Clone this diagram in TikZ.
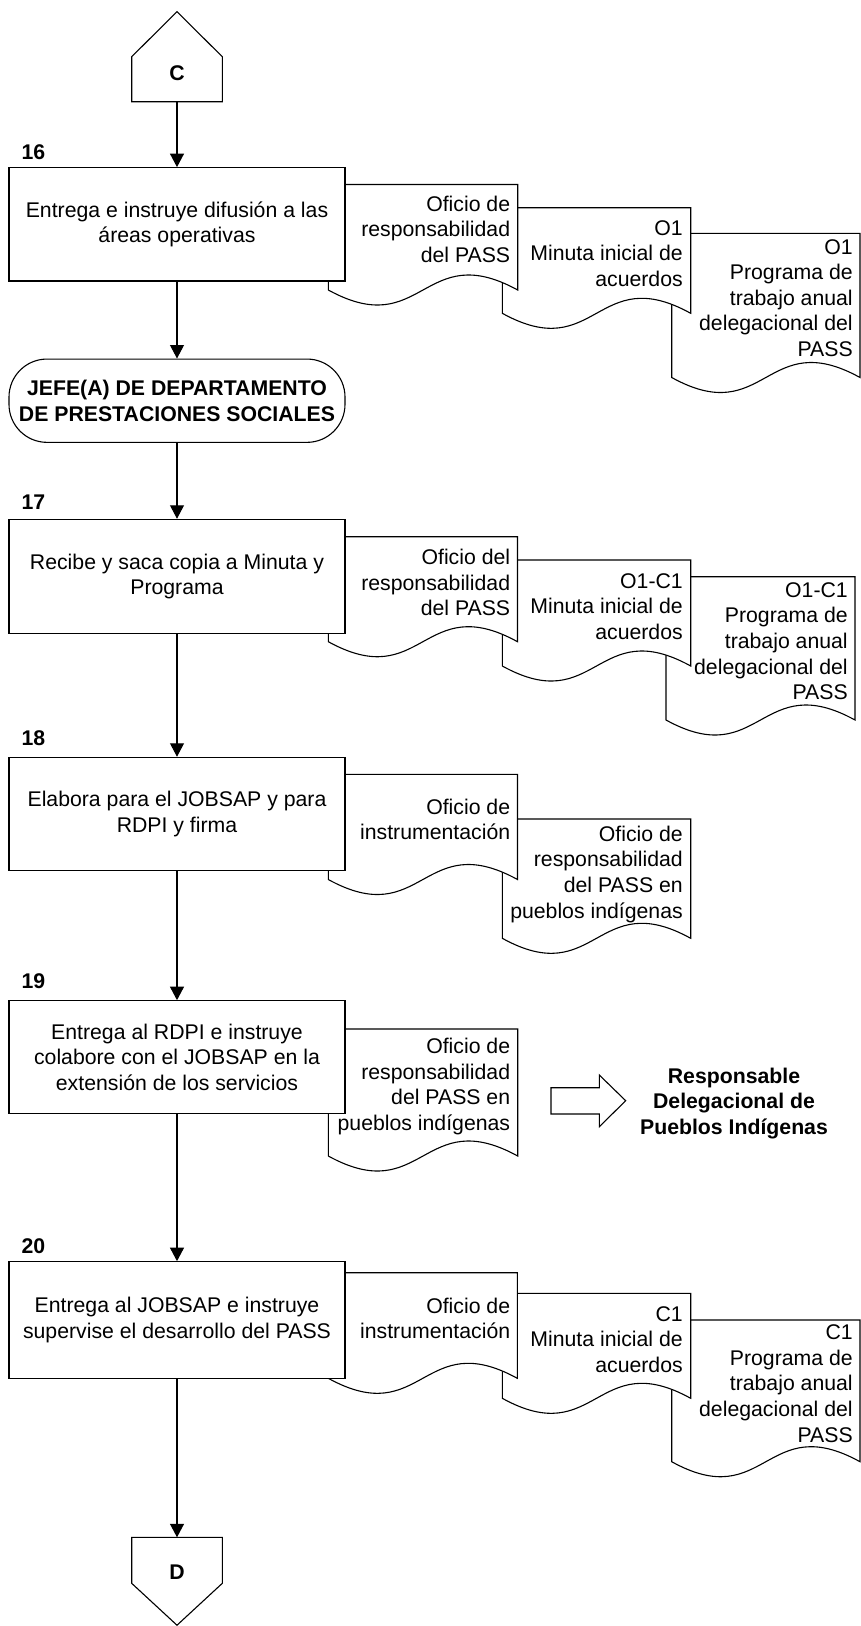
\documentclass[tikz,border=0pt]{standalone}
\usepackage{fontspec}
\setmainfont{Liberation Sans}
\usetikzlibrary{arrows.meta}

\begin{document}

% strut that fixes the height of the first text line
\newcommand\firstln{\rule{0pt}{16pt}}

\begin{tikzpicture}[x=1pt,y=-1pt,
  line width=1.1pt,
  docline/.style={draw=black, fill=white, line width=1.1pt},
  mainfont/.style={font=\fontsize{21.25}{25.6}\selectfont},
  boldfont/.style={font=\fontsize{21.25}{25.6}\selectfont\bfseries},
  procbox/.style={mainfont, draw, fill=white, minimum width=336pt, align=center, inner sep=0pt},
  termbox/.style={boldfont, draw, fill=white, rounded corners=38pt, minimum width=336pt,
    minimum height=83.3pt, align=center, inner sep=0pt},
  doctxt/.style={mainfont, anchor=north east, inner sep=0pt, align=right},
  steplbl/.style={boldfont, anchor=west, inner sep=0pt},
  flow/.style={-{Triangle[length=13.5pt,width=14pt]}, line width=1.1pt},
  docsym/.pic={
    % document symbol with a wavy bottom edge; width and base set by keys
    \filldraw[docline] (0,\docbase) -- (0,0) -- (\docwidth,0) -- (\docwidth,\docbase)
      .. controls ({\docwidth/2},{\docbase-52}) and ({\docwidth/2},{\docbase+52}) .. (0,\docbase) -- cycle;
  }]

% document symbol: left x, right x, top y, base y of the wavy bottom edge
\def\drawdoc#1#2#3#4{%
  \pgfmathsetmacro\docwidth{#2-#1}%
  \pgfmathsetmacro\docbase{#4-#3}%
  \pic at (#1,#3) {docsym};}

\useasboundingbox (0,0) rectangle (861,1626);

% ---------- off-page connector C ----------
\draw[fill=white] (131.7,56.7) -- (177,11.7) -- (222.3,56.7) -- (222.3,101.7) -- (131.7,101.7) -- cycle;
\node[boldfont, inner sep=0pt] (offC) at (177,73.3) {C};
\coordinate (Cbot) at (177,101.7);

% ---------- step 16 ----------
\drawdoc{671.7}{860}{233.3}{377.5}
\drawdoc{502.3}{690.7}{207.7}{313.3}
\drawdoc{328.3}{517.7}{184.5}{290}
\node[doctxt] (d16a) at (510.7,194.8) {\firstln Oficio de\\responsabilidad\\del PASS};
\node[doctxt] (d16b) at (683.3,218.8) {\firstln O1\\Minuta inicial de\\acuerdos};
\node[doctxt] (d16c) at (853.3,237.5) {\firstln O1\\Programa de\\trabajo anual\\delegacional del\\PASS};
\node[steplbl] (n16) at (21,151.7) {16};
\node[procbox, minimum height=113.3pt] (b16) at (177,224.3) {Entrega e instruye difusión a las\\áreas operativas};

% ---------- area head ----------
\node[termbox] (jefe) at (177,400.7) {JEFE(A) DE DEPARTAMENTO\\DE PRESTACIONES SOCIALES};

% ---------- step 17 ----------
\drawdoc{666}{855}{576.7}{720}
\drawdoc{502.3}{690.7}{560}{666}
\drawdoc{328.3}{517.5}{536.7}{641.7}
\node[doctxt] (d17a) at (510.7,548.2) {\firstln Oficio del\\responsabilidad\\del PASS};
\node[doctxt] (d17b) at (683.3,571.5) {\firstln O1-C1\\Minuta inicial de\\acuerdos};
\node[doctxt] (d17c) at (848.3,580.8) {\firstln O1-C1\\Programa de\\trabajo anual\\delegacional del\\PASS};
\node[steplbl] (n17) at (21,501.7) {17};
\node[procbox, minimum height=114pt] (b17) at (177,576.3) {Recibe y saca copia a Minuta y\\Programa};

% ---------- step 18 ----------
\drawdoc{502.3}{690.7}{819}{938.3}
\drawdoc{328.3}{517.5}{774.3}{879.5}
\node[doctxt] (d18a) at (510.7,797.5) {\firstln Oficio de\\instrumentación};
\node[doctxt] (d18b) at (683.3,824.8) {\firstln Oficio de\\responsabilidad\\del PASS en\\pueblos indígenas};
\node[steplbl] (n18) at (21,738.3) {18};
\node[procbox, minimum height=113.4pt] (b18) at (177,814) {Elabora para el JOBSAP y para\\RDPI y firma};

% ---------- step 19 ----------
\drawdoc{328.3}{517.7}{1029}{1156}
\node[doctxt] (d19) at (510.7,1037.2) {\firstln Oficio de\\responsabilidad\\del PASS en\\pueblos indígenas};
\node[steplbl] (n19) at (21,980.7) {19};
\node[procbox, minimum height=112.6pt] (b19) at (177,1057) {Entrega al RDPI e instruye\\colabore con el JOBSAP en la\\extensión de los servicios};

% hollow arrow towards the receiving area
\draw[fill=white] (551,1087.7) -- (599.3,1087.7) -- (599.3,1075) -- (625.7,1100.7)
  -- (599.3,1126.7) -- (599.3,1114) -- (551,1114) -- cycle;
\node[boldfont, anchor=north, inner sep=0pt, align=center] (rdpi) at (734,1066.5)
  {\firstln Responsable\\Delegacional de\\Pueblos Indígenas};

% ---------- step 20 ----------
\drawdoc{671.7}{860}{1320}{1461.7}
\drawdoc{502.3}{690.7}{1293.3}{1398.3}
\drawdoc{328.3}{517.3}{1272.7}{1378.3}
\node[doctxt] (d20a) at (510.7,1296.5) {\firstln Oficio de\\instrumentación};
\node[doctxt] (d20b) at (683.3,1304.8) {\firstln C1\\Minuta inicial de\\acuerdos};
\node[doctxt] (d20c) at (853.3,1323.2) {\firstln C1\\Programa de\\trabajo anual\\delegacional del\\PASS};
\node[steplbl] (n20) at (21,1246) {20};
\node[procbox, minimum height=116.6pt] (b20) at (177,1320) {Entrega al JOBSAP e instruye\\supervise el desarrollo del PASS};

% ---------- off-page connector D ----------
\draw[fill=white] (131.7,1537.3) -- (222.3,1537.3) -- (222.3,1583.3) -- (177,1625.2) -- (131.7,1583.3) -- cycle;
\node[boldfont, inner sep=0pt] (offD) at (177,1571.7) {D};
\coordinate (Dtop) at (177,1537.3);

% ---------- flow ----------
\draw[flow] (Cbot) -- (b16.north);
\draw[flow] (b16.south) -- (jefe.north);
\draw[flow] (jefe.south) -- (b17.north);
\draw[flow] (b17.south) -- (b18.north);
\draw[flow] (b18.south) -- (b19.north);
\draw[flow] (b19.south) -- (b20.north);
\draw[flow] (b20.south) -- (Dtop);

\end{tikzpicture}
\end{document}
